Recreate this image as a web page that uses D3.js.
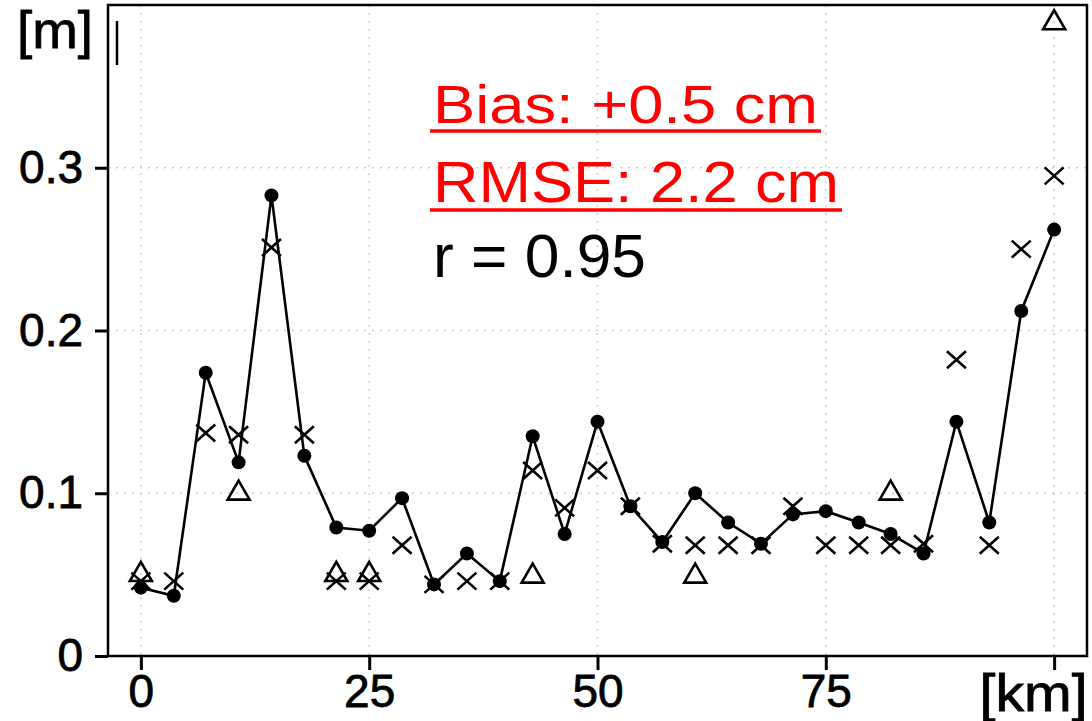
<!DOCTYPE html>
<html>
<head>
<meta charset="utf-8">
<script src="https://cdn.jsdelivr.net/npm/d3@7"></script>
<style>
    html, body { margin: 0; padding: 0; background: #fff; }
    text { font-family: "Liberation Sans", Arial, sans-serif; }
</style>
</head>
<body>
<div id="chart"></div>
<script>
(function () {

    // distance along the track [km]
    var distanceKm = [0, 3.6, 7.1, 10.7, 14.3, 17.9, 21.4, 25, 28.6, 32.1, 35.7, 39.3, 42.9, 46.4, 50,
        53.6, 57.1, 60.7, 64.3, 67.9, 71.4, 75, 78.6, 82.1, 85.7, 89.3, 92.9, 96.4, 100];

    // dots joined by the line [m]
    var dotValues = [0.042, 0.037, 0.174, 0.119, 0.283, 0.123, 0.079, 0.077, 0.097, 0.044, 0.063, 0.046, 0.135, 0.075, 0.144,
        0.092, 0.070, 0.100, 0.082, 0.069, 0.087, 0.089, 0.082, 0.075, 0.063, 0.144, 0.082, 0.212, 0.262];

    // crosses [m]
    var crossValues = [0.046, 0.046, 0.137, 0.136, 0.251, 0.136, 0.046, 0.046, 0.068, 0.044, 0.046, 0.046, 0.114, 0.091, 0.114,
        0.092, 0.069, 0.068, 0.068, 0.068, 0.092, 0.068, 0.068, 0.068, 0.069, 0.182, 0.068, 0.250, 0.295];

    // triangles, only at a few places
    var triangleKm = [0, 10.7, 21.4, 25, 42.9, 60.7, 82.1, 100];
    var triangleValues = [0.050, 0.100, 0.050, 0.050, 0.049, 0.049, 0.100, 0.389];

    var xTicks = [0, 25, 50, 75, 100];
    var xTickLabels = ["0", "25", "50", "75", "[km]"];
    var yTicks = [0, 0.1, 0.2, 0.3, 0.4];
    var yTickLabels = ["0", "0.1", "0.2", "0.3", "[m]"];

    var stats = [
        { text: "Bias: +0.5 cm", color: "#ff0000", underline: true },
        { text: "RMSE: 2.2 cm", color: "#ff0000", underline: true },
        { text: "r = 0.95", color: "#000000", underline: false }
    ];

    var width = 1092;
    var height = 721;
    var left = 108, right = 1087, top = 5, bottom = 656;

    var x = d3.scaleLinear().domain([-3.6, 103.6]).range([left, right]);
    var y = d3.scaleLinear().domain([0, 0.4]).range([bottom, top]);

    var svg = d3.select("#chart").append("svg")
        .attr("width", width)
        .attr("height", height);

    renderGrid(svg);
    renderAxes(svg);
    renderSeries(svg);
    renderStats(svg);

    /* functions */

    function renderGrid(svg) {
        var g = svg.append("g").attr("class", "grid");
        g.selectAll("line.vx")
            .data(xTicks)
            .enter()
            .append("line")
            .attr("x1", d => x(d)).attr("x2", d => x(d))
            .attr("y1", top).attr("y2", bottom)
            .attr("stroke", "#cfcfcf")
            .attr("stroke-width", 1.5)
            .attr("stroke-dasharray", "2,6");
        g.selectAll("line.hy")
            .data(yTicks.filter(d => d > 0 && d < 0.4))
            .enter()
            .append("line")
            .attr("x1", left).attr("x2", right)
            .attr("y1", d => y(d)).attr("y2", d => y(d))
            .attr("stroke", "#cfcfcf")
            .attr("stroke-width", 1.5)
            .attr("stroke-dasharray", "2,6");
    }

    function renderAxes(svg) {
        var xAxis = d3.axisBottom(x)
            .tickValues(xTicks)
            .tickSize(14)
            .tickPadding(4)
            .tickFormat((d, i) => xTickLabels[i]);
        var yAxis = d3.axisLeft(y)
            .tickValues(yTicks)
            .tickSize(13)
            .tickPadding(12)
            .tickFormat((d, i) => yTickLabels[i]);

        var gx = svg.append("g")
            .attr("transform", "translate(0," + bottom + ")")
            .call(xAxis);
        var gy = svg.append("g")
            .attr("transform", "translate(" + left + ",0)")
            .call(yAxis);

        [gx, gy].forEach(function (g) {
            g.select(".domain").remove();
            g.selectAll(".tick line").attr("stroke", "#000").attr("stroke-width", 3);
            g.selectAll(".tick text")
                .attr("fill", "#000")
                .attr("stroke", "#000")
                .attr("stroke-width", 0.8)
                .style("font-size", "46px")
                .style("font-family", "'Liberation Sans', Arial, sans-serif");
        });

        // top tick of y has no line, label sits lower
        gy.selectAll(".tick").filter(d => d === 0.4).select("line").remove();
        gy.selectAll(".tick").filter(d => d === 0.4).select("text")
            .attr("dy", "0")
            .attr("y", 42)
            .attr("x", -15)
            .style("font-size", "52px")
            .attr("textLength", 76)
            .attr("lengthAdjust", "spacingAndGlyphs");
        // [km] label pushed left so it fits
        gx.selectAll(".tick").filter(d => d === 100).select("text")
            .attr("text-anchor", "end")
            .attr("x", 33)
            .style("font-size", "52px")
            .attr("textLength", 108)
            .attr("lengthAdjust", "spacingAndGlyphs");

        // frame
        svg.append("rect")
            .attr("x", left)
            .attr("y", top)
            .attr("width", right - left)
            .attr("height", bottom - top)
            .attr("fill", "none")
            .attr("stroke", "#000")
            .attr("stroke-width", 2.5);

        // small stray bar in the upper left corner
        svg.append("line")
            .attr("x1", left + 9).attr("x2", left + 9)
            .attr("y1", top + 16).attr("y2", top + 60)
            .attr("stroke", "#000")
            .attr("stroke-width", 2.5);
    }

    function renderSeries(svg) {
        var dots = distanceKm.map((d, i) => ({ km: d, v: dotValues[i] }));
        var crosses = distanceKm.map((d, i) => ({ km: d, v: crossValues[i] }));
        var triangles = triangleKm.map((d, i) => ({ km: d, v: triangleValues[i] }));

        var line = d3.line()
            .x(d => x(d.km))
            .y(d => y(d.v));

        svg.append("path")
            .datum(dots)
            .attr("fill", "none")
            .attr("stroke", "#000")
            .attr("stroke-width", 2.6)
            .attr("d", line);

        svg.selectAll("circle.dot")
            .data(dots)
            .enter()
            .append("circle")
            .attr("class", "dot")
            .attr("cx", d => x(d.km))
            .attr("cy", d => y(d.v))
            .attr("r", 7)
            .attr("fill", "#000");

        var cw = 9.5, ch = 8.5;
        svg.selectAll("path.cross")
            .data(crosses)
            .enter()
            .append("path")
            .attr("class", "cross")
            .attr("transform", d => "translate(" + x(d.km) + "," + y(d.v) + ")")
            .attr("d", "M" + (-cw) + "," + (-ch) + "L" + cw + "," + ch + "M" + (-cw) + "," + ch + "L" + cw + "," + (-ch))
            .attr("fill", "none")
            .attr("stroke", "#000")
            .attr("stroke-width", 2.6);

        var tri = d3.symbol().type(d3.symbolTriangle).size(210);
        svg.selectAll("path.tri")
            .data(triangles)
            .enter()
            .append("path")
            .attr("class", "tri")
            .attr("transform", d => "translate(" + x(d.km) + "," + y(d.v) + ")")
            .attr("d", tri)
            .attr("fill", "none")
            .attr("stroke", "#000")
            .attr("stroke-width", 2.6);
    }

    function renderStats(svg) {
        var baselines = [123, 202, 277];
        var sizes = [53, 57, 61];
        var lengths = [385, 406, 213];
        var g = svg.append("g");
        stats.forEach(function (s, i) {
            g.append("text")
                .attr("x", 433)
                .attr("y", baselines[i])
                .attr("fill", s.color)
                .style("font-size", sizes[i] + "px")
                .attr("textLength", lengths[i])
                .attr("lengthAdjust", "spacingAndGlyphs")
                .text(s.text);
            if (s.underline) {
                g.append("line")
                    .attr("x1", 430)
                    .attr("x2", 430 + lengths[i] + 6)
                    .attr("y1", baselines[i] + 8)
                    .attr("y2", baselines[i] + 8)
                    .attr("stroke", s.color)
                    .attr("stroke-width", 3.5);
            }
        });
    }
})();
</script>
</body>
</html>
